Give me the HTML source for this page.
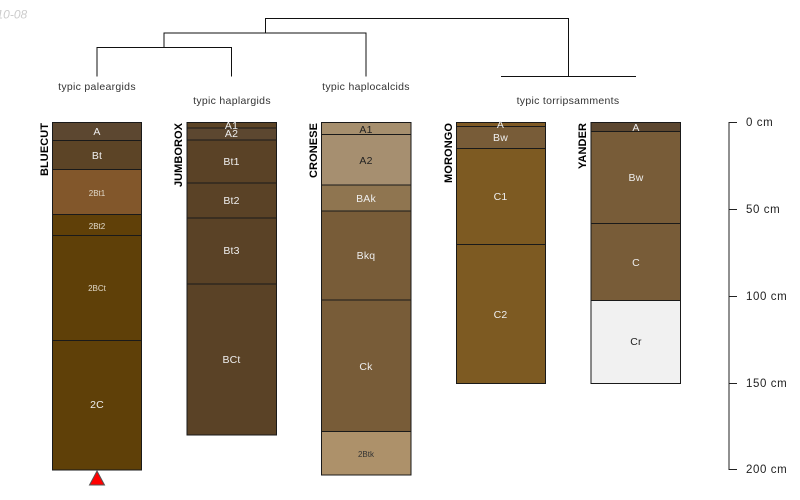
<!DOCTYPE html>
<html><head><meta charset="utf-8">
<style>
html,body{margin:0;padding:0;background:#fff;width:800px;height:500px;overflow:hidden}
svg{display:block}
text{font-family:"Liberation Sans",sans-serif}
.t{font-size:10.5px;text-anchor:middle;letter-spacing:.2px}
.s{font-size:8px;text-anchor:middle}
.g{font-size:10.5px;text-anchor:middle;fill:#333;letter-spacing:.3px}
.n{font-size:11px;font-weight:bold;text-anchor:end;fill:#000}
.d{font-size:11.5px;fill:#222;letter-spacing:.6px}
rect{stroke:#1a1a1a;stroke-width:1}
</style></head><body>
<svg width="800" height="500" viewBox="0 0 800 500" xmlns="http://www.w3.org/2000/svg">
<text x="-3.500" y="18.500" font-size="12" font-style="italic" fill="#ccc">10-08</text>

<g fill="none" stroke="#111" stroke-width="1">
<path d="M97 76.500V47.500H231.500V76.500"/>
<path d="M164 47.500V33H366V76.500"/>
<path d="M265.500 33V18.500H568.500V76"/>
<path d="M501 76.500H636"/>
</g>

<text class="g" x="97" y="90">typic paleargids</text>
<text class="g" x="232" y="104">typic haplargids</text>
<text class="g" x="366" y="90">typic haplocalcids</text>
<text class="g" x="568" y="104">typic torripsamments</text>

<!-- BLUECUT -->
<rect x="52.500" y="122.500" width="89" height="18" fill="#5c4730"/>
<rect x="52.500" y="140.500" width="89" height="29" fill="#5c4426"/>
<rect x="52.500" y="169.500" width="89" height="45" fill="#82572b"/>
<rect x="52.500" y="214.500" width="89" height="21" fill="#604008"/>
<rect x="52.500" y="235.500" width="89" height="105" fill="#5f4008"/>
<rect x="52.500" y="340.500" width="89" height="129.500" fill="#5f4008"/>
<text class="t" x="97" y="135" fill="#eee">A</text>
<text class="t" x="97" y="159" fill="#eee">Bt</text>
<text class="s" x="97" y="196" fill="#e0d8c8">2Bt1</text>
<text class="s" x="97" y="229" fill="#e0d8c8">2Bt2</text>
<text class="s" x="97" y="291" fill="#e0d8c8">2BCt</text>
<text class="t" x="97" y="408" fill="#eee">2C</text>
<text class="n" transform="translate(48,123) rotate(-90)" x="0" y="0" textLength="53">BLUECUT</text>
<polygon points="97,471 104.500,485 89.500,485" fill="#f00" stroke="#555" stroke-width="1"/>

<!-- JUMBOROX -->
<rect x="187" y="122.500" width="89.500" height="5.500" fill="#5c4426"/>
<rect x="187" y="128" width="89.500" height="12" fill="#5c4730"/>
<rect x="187" y="140" width="89.500" height="43" fill="#5a4226"/>
<rect x="187" y="183" width="89.500" height="35" fill="#5a4226"/>
<rect x="187" y="218" width="89.500" height="66" fill="#5a4226"/>
<rect x="187" y="284" width="89.500" height="151" fill="#5a4226"/>
<text class="t" x="231.500" y="129" fill="#eee">A1</text>
<text class="t" x="231.500" y="137" fill="#eee">A2</text>
<text class="t" x="231.500" y="165" fill="#eee">Bt1</text>
<text class="t" x="231.500" y="204" fill="#eee">Bt2</text>
<text class="t" x="231.500" y="254" fill="#eee">Bt3</text>
<text class="t" x="231.500" y="363" fill="#eee">BCt</text>
<text class="n" transform="translate(182,123) rotate(-90)" x="0" y="0" textLength="64">JUMBOROX</text>

<!-- CRONESE -->
<rect x="321.500" y="122.500" width="89.500" height="12" fill="#a68f6e"/>
<rect x="321.500" y="134.500" width="89.500" height="50.500" fill="#a68f70"/>
<rect x="321.500" y="185" width="89.500" height="26" fill="#8f7550"/>
<rect x="321.500" y="211" width="89.500" height="89" fill="#785c38"/>
<rect x="321.500" y="300" width="89.500" height="131.500" fill="#785c38"/>
<rect x="321.500" y="431.500" width="89.500" height="43.500" fill="#ad916a"/>
<text class="t" x="366" y="133" fill="#222">A1</text>
<text class="t" x="366" y="164" fill="#222">A2</text>
<text class="t" x="366" y="202" fill="#eee">BAk</text>
<text class="t" x="366" y="259" fill="#eee">Bkq</text>
<text class="t" x="366" y="370" fill="#eee">Ck</text>
<text class="s" x="366" y="457" fill="#333">2Btk</text>
<text class="n" transform="translate(317,123) rotate(-90)" x="0" y="0" textLength="55">CRONESE</text>

<!-- MORONGO -->
<rect x="456.500" y="122.500" width="89" height="4" fill="#7f5a25"/>
<rect x="456.500" y="126.500" width="89" height="22" fill="#785c38"/>
<rect x="456.500" y="148.500" width="89" height="96" fill="#7d5a22"/>
<rect x="456.500" y="244.500" width="89" height="139" fill="#7d5a22"/>
<text class="t" x="500.500" y="128" fill="#eee">A</text>
<text class="t" x="500.500" y="141" fill="#eee">Bw</text>
<text class="t" x="500.500" y="200" fill="#eee">C1</text>
<text class="t" x="500.500" y="318" fill="#eee">C2</text>
<text class="n" transform="translate(452,123) rotate(-90)" x="0" y="0" textLength="60">MORONGO</text>

<!-- YANDER -->
<rect x="591" y="122.500" width="89.500" height="9" fill="#5c4730"/>
<rect x="591" y="131.500" width="89.500" height="92" fill="#785c38"/>
<rect x="591" y="223.500" width="89.500" height="77" fill="#785c38"/>
<rect x="591" y="300.500" width="89.500" height="83" fill="#f1f1f1" stroke="#333"/>
<text class="t" x="636" y="131" fill="#eee">A</text>
<text class="t" x="636" y="181" fill="#eee">Bw</text>
<text class="t" x="636" y="266" fill="#eee">C</text>
<text class="t" x="636" y="345" fill="#222">Cr</text>
<text class="n" transform="translate(586,123) rotate(-90)" x="0" y="0" textLength="46">YANDER</text>

<!-- scale -->
<path d="M737 122.500H729V469.500H737M729 209.500H737M729 296.500H737M729 383.500H737" fill="none" stroke="#222" stroke-width="1"/>
<text class="d" x="746" y="126">0 cm</text>
<text class="d" x="746" y="213">50 cm</text>
<text class="d" x="746" y="300">100 cm</text>
<text class="d" x="746" y="387">150 cm</text>
<text class="d" x="746" y="473">200 cm</text>
</svg>
</body></html>
